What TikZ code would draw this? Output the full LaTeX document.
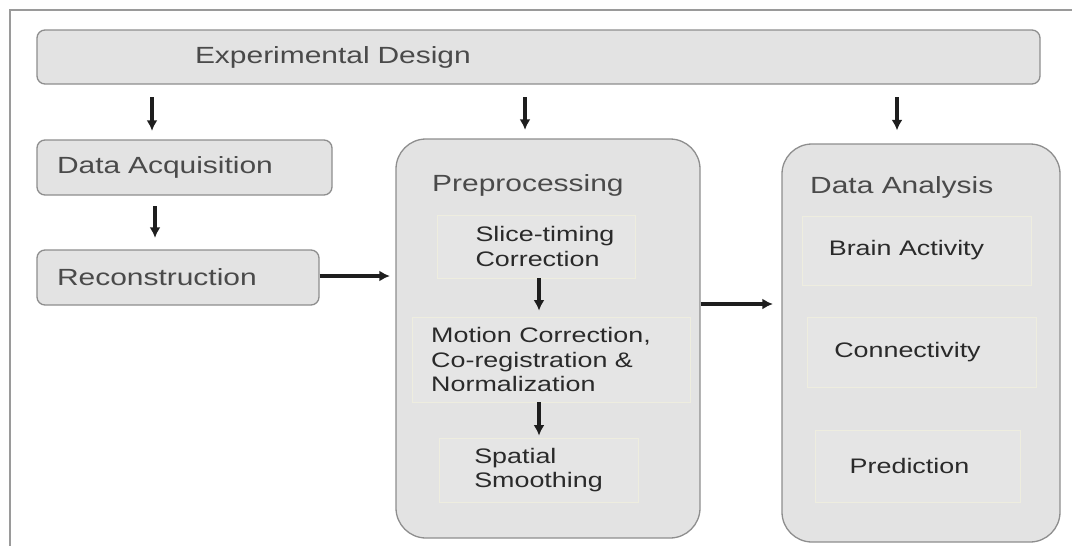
\documentclass[tikz,border=0pt]{standalone}
\usepackage{fontspec}
\setmainfont{Liberation Sans}[FakeStretch=1.28]
\usetikzlibrary{arrows.meta,calc}
\definecolor{boxfill}{HTML}{E3E3E3}
\definecolor{boxline}{HTML}{8E8E8E}
\definecolor{subfill}{HTML}{E5E5E5}
\definecolor{subline}{HTML}{EEEDDF}
\definecolor{titletext}{HTML}{4A4A4A}
\definecolor{subtext}{HTML}{2A2A2A}
\definecolor{arrowc}{HTML}{1E1E1E}
\definecolor{framec}{HTML}{9A9A9A}
\newcommand\ttlfnt{\fontsize{23.4}{27}\selectfont}
\newcommand\subfnt{\fontsize{21}{24.5}\selectfont}
\begin{document}
\begin{tikzpicture}[x=1pt,y=-1pt,
  stage/.style={draw=boxline, fill=boxfill, line width=1.3pt, rounded corners=8pt,
    inner ysep=0pt, align=left, font=\ttlfnt, text=titletext},
  group/.style={draw=boxline, fill=boxfill, line width=1.3pt, rounded corners=30pt},
  grouptitle/.style={font=\ttlfnt, text=titletext, inner sep=0pt, anchor=west},
  sub/.style={draw=subline, fill=subfill, line width=0.8pt, font=\subfnt, text=subtext, align=left},
  arr/.style={-{Latex[length=10.5pt,width=11pt]}, line width=3.1pt, draw=arrowc},
  frameline/.style={draw=framec, line width=1.5pt}]
\useasboundingbox (0,0) rectangle (1072,546);
\draw[frameline] (10,546) -- (10,10) -- (1072,10);

% top stage
\node[stage, text width=687pt, inner xsep=158pt, minimum height=54pt] (exp) at (538.5,57) {Experimental Design};

% left column
\node[stage, text width=255pt, inner xsep=20pt, minimum height=55pt] (da) at (184.5,167.5) {Data Acquisition};
\node[stage, text width=242pt, inner xsep=20pt, minimum height=55pt] (rec) at (178,277.5) {Reconstruction};

% preprocessing group
\node[group, minimum width=304pt, minimum height=399pt] (pre) at (548,338.5) {};
\node[grouptitle] (pret) at (432,185) {Preprocessing};
\node[sub, minimum width=198pt, minimum height=63pt] (st) at (536,246.5) {\hspace*{18pt}Slice-timing\\\hspace*{18pt}Correction};
\node[sub, minimum width=278pt, minimum height=85pt] (mc) at (551,359.5) {Motion Correction,\hspace*{20pt}\\Co-registration \&\\Normalization};
\node[sub, minimum width=199pt, minimum height=64pt] (sp) at (538.5,470) {Spatial\\Smoothing};

% data analysis group
\node[group, minimum width=278pt, minimum height=398pt] (ana) at (921,343) {};
\node[grouptitle] (anat) at (810,187) {Data Analysis};
\node[sub, minimum width=229pt, minimum height=69pt] (ba) at (916.5,250.5) {Brain Activity\hspace*{20pt}};
\node[sub, minimum width=229pt, minimum height=70pt] (cn) at (921.5,352) {Connectivity\hspace*{28pt}};
\node[sub, minimum width=205pt, minimum height=72pt] (pr) at (917.5,466) {Prediction\hspace*{16pt}};

% connectors
\draw[arr, shorten <=12.5pt, shorten >=8.5pt] ([xshift=-32.5pt]da.north |- exp.south) -- ([xshift=-32.5pt]da.north);
\draw[arr, shorten <=12.5pt, shorten >=8.5pt] ([xshift=-23pt]pre.north |- exp.south) -- ([xshift=-23pt]pre.north);
\draw[arr, shorten <=12.5pt, shorten >=13pt] ([xshift=-24pt]ana.north |- exp.south) -- ([xshift=-24pt]ana.north);
\draw[arr, shorten <=10.5pt, shorten >=11.5pt] ([xshift=-29.5pt]da.south) -- ([xshift=-29.5pt]da.south |- rec.north);
\draw[arr, shorten >=5.5pt] ([yshift=1.5pt]rec.east) -- ([yshift=1.5pt]rec.east -| pre.west);
\draw[arr, shorten >=6pt] ([xshift=3pt]st.south) -- ([xshift=3pt]st.south |- mc.north);
\draw[arr, shorten >=2pt] ([xshift=-12pt]mc.south) -- ([xshift=-12pt]mc.south |- sp.north);
\draw[arr, shorten >=8.5pt] ([yshift=34.5pt]pre.east) -- ([yshift=34.5pt]pre.east -| ana.west);
\end{tikzpicture}
\end{document}
